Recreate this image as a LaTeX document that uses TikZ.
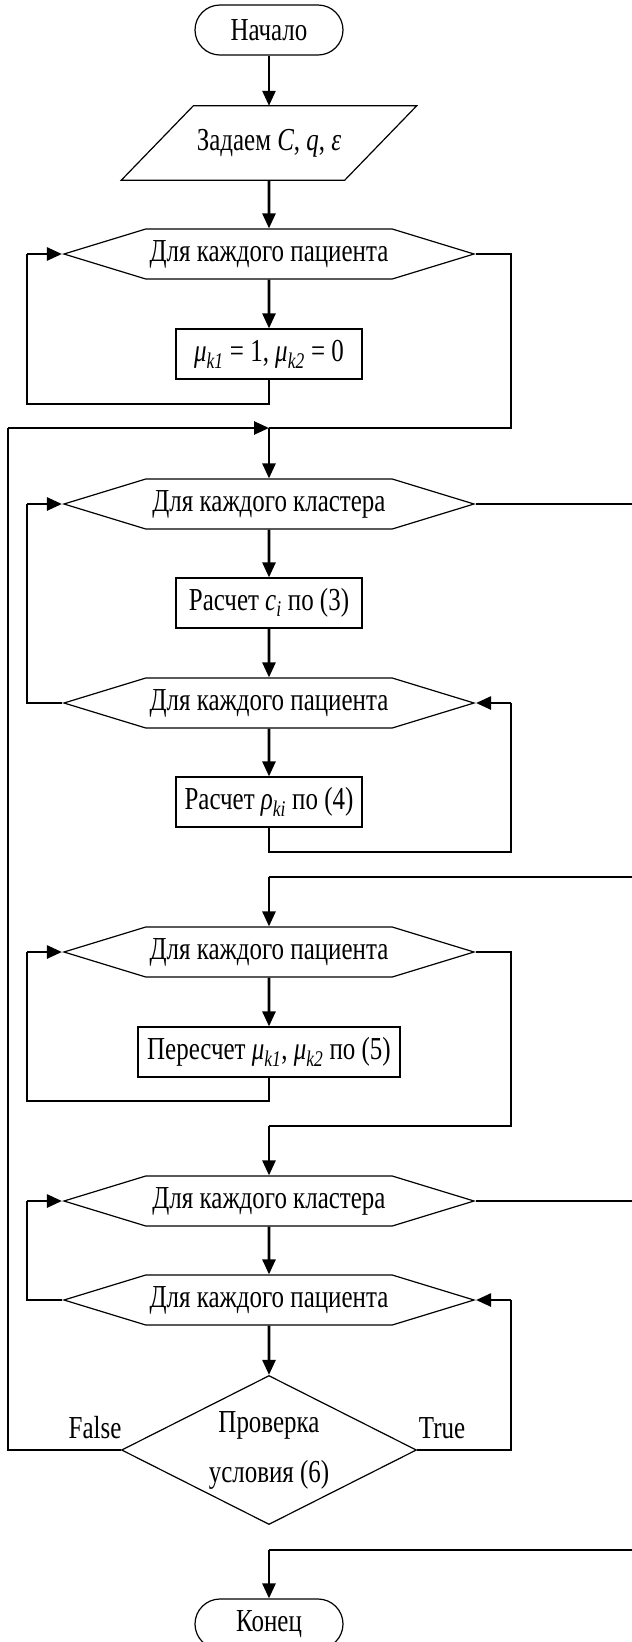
\documentclass[tikz,border=0pt]{standalone}
\usepackage{fontspec}
\setmainfont{Liberation Serif}[FakeStretch=0.78]
\usetikzlibrary{shapes.geometric,shapes.symbols,arrows.meta}
\begin{document}
\begin{tikzpicture}[x=1pt,y=-1pt,font=\fontsize{32}{36}\selectfont,
	ln/.style={line width=1.2pt},
	arr/.style={line width=2.6pt,-{Triangle[length=15pt,width=13pt]}},
	term/.style={draw,line width=1.2pt,rounded corners=25pt,minimum width=148pt,minimum height=50pt},
	inout/.style={minimum width=223pt,minimum height=74pt,inner sep=0pt},
	cyc/.style={draw,line width=1.2pt,signal,signal to=west and east,signal pointer angle=34,minimum width=410pt,minimum height=50pt,inner sep=0pt},
	proc/.style={draw,line width=1.2pt,minimum width=186pt,minimum height=50pt,inner xsep=4pt},
	cond/.style={draw,line width=1.2pt,diamond,shape aspect=2,minimum width=295pt,minimum height=149pt,inner sep=0pt,align=center,font=\fontsize{32}{50}\selectfont}]
	\useasboundingbox (0,0) rectangle (632,1642);
	\clip (0,0) rectangle (632,1642);
	\node[term] (beg) at (269,30) {Начало};
	\node[inout] (zad) at (269,143) {Задаем \textit{C}, \textit{q}, \textit{ε}};
	\draw[ln] ([xshift=-36pt]zad.south west)--([xshift=36pt]zad.north west)--([xshift=36pt]zad.north east)--([xshift=-36pt]zad.south east)--cycle;
	\node[cyc] (h1) at (269,254) {Для каждого пациента};
	\node[proc] (b1) at (269,354) {\textit{μ\textsubscript{k1}} = 1, \textit{μ\textsubscript{k2}} = 0};
	\coordinate (m1) at (269,428);
	\node[cyc] (h2) at (269,504) {Для каждого кластера};
	\node[proc] (b2) at (269,603) {Расчет \textit{c\textsubscript{i}} по (3)};
	\node[cyc] (h3) at (269,703) {Для каждого пациента};
	\node[proc] (b3) at (269,802) {Расчет \textit{ρ\textsubscript{ki}} по (4)};
	\coordinate (m2) at (269,877);
	\node[cyc] (h4) at (269,952) {Для каждого пациента};
	\node[proc,minimum width=262pt] (b4) at (269,1052) {Пересчет \textit{μ\textsubscript{k1}}, \textit{μ\textsubscript{k2}} по (5)};
	\coordinate (m3) at (269,1126);
	\node[cyc] (h5) at (269,1201) {Для каждого кластера};
	\node[cyc] (h6) at (269,1300) {Для каждого пациента};
	\node[cond] (chk) at (269,1450) {Проверка\\условия (6)};
	\coordinate (m4) at (269,1550);
	\node[term] (fin) at (269,1624) {Конец};
	\node (fls) at (95,1428) {False};
	\node (tru) at (442,1428) {True};
	\draw[arr] (beg)--(zad);
	\draw[arr] (zad)--(h1);
	\draw[arr] (h1)--(b1);
	\draw[ln] (b1.south)--(269,404)--(27,404)--(27,254);
	\draw[arr] (27,254)--(h1.west);
	\draw[ln] (h1.east)--(511,254)--(511,428)--(m1);
	\draw[ln] (chk.west)--(8,1450)--(8,428);
	\draw[arr] (8,428)--(m1);
	\draw[arr] (m1)--(h2.north);
	\draw[ln] (h2.east)--(640,504);
	\draw[arr] (h2)--(b2);
	\draw[arr] (b2)--(h3);
	\draw[ln] (h3.west)--(27,703)--(27,504);
	\draw[arr] (27,504)--(h2.west);
	\draw[arr] (h3)--(b3);
	\draw[ln] (b3.south)--(269,852)--(511,852)--(511,703);
	\draw[arr] (511,703)--(h3.east);
	\draw[ln] (640,877)--(m2);
	\draw[arr] (m2)--(h4.north);
	\draw[arr] (h4)--(b4);
	\draw[ln] (b4.south)--(269,1101)--(27,1101)--(27,952);
	\draw[arr] (27,952)--(h4.west);
	\draw[ln] (h4.east)--(511,952)--(511,1126)--(m3);
	\draw[arr] (m3)--(h5.north);
	\draw[ln] (h5.east)--(640,1201);
	\draw[arr] (h5)--(h6);
	\draw[ln] (h6.west)--(27,1300)--(27,1201);
	\draw[arr] (27,1201)--(h5.west);
	\draw[arr] (h6)--(chk);
	\draw[ln] (chk.east)--(511,1450)--(511,1300);
	\draw[arr] (511,1300)--(h6.east);
	\draw[ln] (640,1550)--(m4);
	\draw[arr] (m4)--(fin.north);
\end{tikzpicture}
\end{document}
